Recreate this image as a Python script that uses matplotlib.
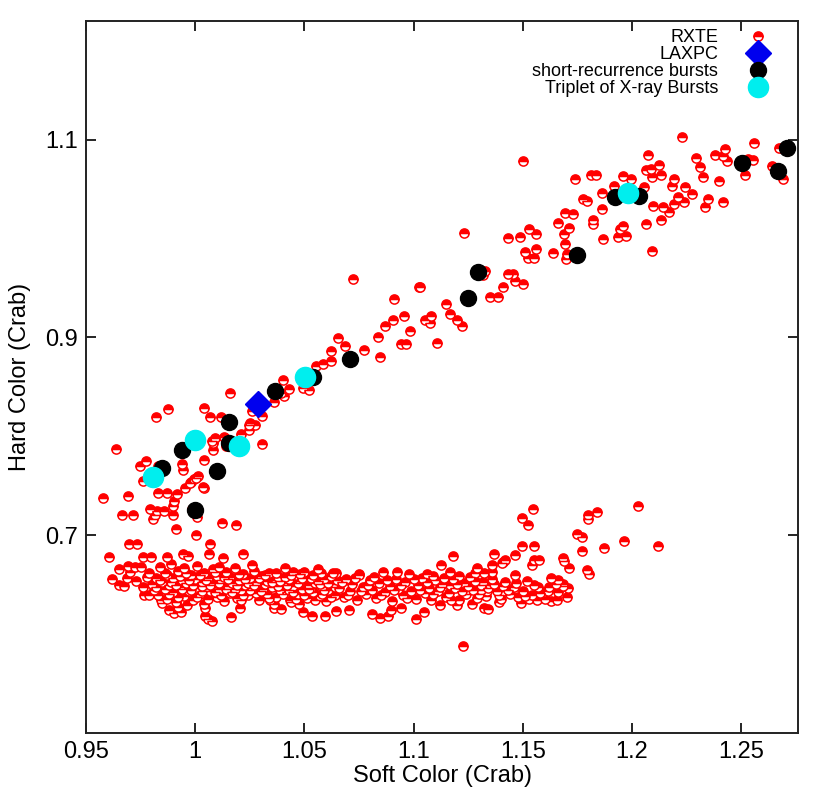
import matplotlib
matplotlib.use("Agg")
import matplotlib.pyplot as plt
from matplotlib import font_manager

# ---------------- data ----------------
# RXTE: upper (rising) branch, (soft, hard)
rxte_branch = [
    (0.9636, 0.787), (0.9747, 0.770), (0.9775, 0.775), (0.9762, 0.755), (0.9579, 0.738),
    (0.9691, 0.740), (0.9831, 0.743), (0.9871, 0.743), (0.9917, 0.742), (0.9904, 0.735),
    (0.9897, 0.730), (0.9793, 0.727), (0.9827, 0.725), (0.9859, 0.725), (0.9666, 0.720),
    (0.9714, 0.720), (0.9816, 0.720), (0.9808, 0.716), (0.9898, 0.720), (0.9953, 0.748),
    (0.9980, 0.754), (0.9996, 0.757), (1.0012, 0.760), (1.0039, 0.748), (1.0040, 0.776),
    (0.9938, 0.772), (0.9943, 0.766), (0.9985, 0.727), (1.0010, 0.718), (0.9914, 0.706),
    (1.0124, 0.7125), (1.0186, 0.710), (1.0004, 0.700), (1.0069, 0.691), (1.0082, 0.786),
    (1.0082, 0.793), (1.0089, 0.798), (1.0137, 0.798), (1.0251, 0.813), (1.0274, 0.811),
    (1.0307, 0.7925), (0.9828, 0.770),
    (0.9820, 0.8195), (0.9877, 0.8276), (1.0042, 0.829), (1.0068, 0.8195), (1.0118, 0.8195),
    (1.0158, 0.8438), (1.0078, 0.795), (1.0132, 0.799), (1.0141, 0.790), (1.0004, 0.758),
    (0.9976, 0.753), (1.0037, 0.749), (1.0209, 0.802), (1.0248, 0.8117), (1.0247, 0.8066),
    (1.0305, 0.821), (1.0259, 0.826), (1.0361, 0.835), (1.0401, 0.8565), (1.0431, 0.848),
    (1.0408, 0.841), (1.0393, 0.8438), (1.0495, 0.849), (1.0523, 0.8464), (1.0552, 0.8714),
    (1.0587, 0.8734), (1.0622, 0.8758), (1.0622, 0.8866),
    (1.0723, 0.959), (1.0654, 0.899), (1.0686, 0.891), (1.0773, 0.8876), (1.0837, 0.9007),
    (1.0846, 0.8805), (1.0906, 0.918), (1.0943, 0.8937), (1.0966, 0.8937), (1.0984, 0.907),
    (1.0956, 0.922), (1.1025, 0.951), (1.1053, 0.918), (1.1075, 0.915), (1.1080, 0.922),
    (1.1108, 0.8947), (1.1149, 0.934), (1.1167, 0.924), (1.1199, 0.918), (1.1222, 0.912),
    (1.0869, 0.912), (1.0911, 0.939),
    (1.1503, 1.0789), (1.2228, 1.1024), (1.1231, 1.0057), (1.1027, 0.951), (1.1434, 1.0006),
    (1.1488, 1.0017), (1.1529, 1.010), (1.1560, 1.0047), (1.1511, 0.9865), (1.1523, 0.9804),
    (1.1549, 0.9804), (1.1560, 0.9895), (1.1636, 0.9855), (1.1663, 1.0158), (1.1689, 1.005),
    (1.1712, 1.0107), (1.1691, 0.9946), (1.1702, 0.9844), (1.1697, 0.9797), (1.1694, 1.026),
    (1.1732, 1.025), (1.1741, 1.0606), (1.1775, 1.0404), (1.1796, 1.0377), (1.1813, 1.0647),
    (1.1834, 1.0647), (1.1821, 1.0192), (1.1823, 1.0148), (1.1862, 1.0462), (1.1862, 1.030),
    (1.1865, 0.9996), (1.1918, 1.0529), (1.1946, 1.0097), (1.1958, 1.0124), (1.1938, 1.0017),
    (1.1972, 1.0023), (1.1961, 1.063), (1.1995, 1.0603), (1.2056, 1.0522), (1.2065, 1.0148),
    (1.2071, 1.0842), (1.2065, 1.069), (1.2086, 1.0707), (1.2091, 1.062), (1.2124, 1.0747),
    (1.2134, 1.0647), (1.2098, 1.0333), (1.2144, 1.032), (1.2132, 1.0184), (1.2169, 1.027),
    (1.2190, 1.035), (1.2210, 1.0417), (1.2240, 1.037), (1.2243, 1.0518), (1.2185, 1.0528),
    (1.2190, 1.0606), (1.2274, 1.0455), (1.2294, 1.081), (1.2312, 1.072), (1.2323, 1.062),
    (1.2332, 1.032), (1.2347, 1.040), (1.2381, 1.0842), (1.2399, 1.0586), (1.2416, 1.0832),
    (1.2427, 1.0907), (1.2434, 1.0789), (1.2416, 1.0367), (1.2518, 1.0647), (1.2533, 1.0809),
    (1.2553, 1.0792), (1.2559, 1.0968), (1.2640, 1.0731), (1.2675, 1.0917), (1.2691, 1.0606),
    (1.2091, 0.9874), (1.1411, 0.951), (1.1466, 0.9574), (1.1503, 0.954), (1.1457, 0.964),
    (1.1430, 0.9645), (1.1350, 0.941), (1.1388, 0.941), (1.1320, 0.9628), (1.1327, 0.9668),
]

# RXTE: lower (flat) band, sparse / edge points
rxte_band = [
    (0.9698, 0.691), (0.9734, 0.691), (0.9604, 0.678), (0.9762, 0.678), (0.9798, 0.678),
    (0.9870, 0.678), (0.9943, 0.681), (0.9966, 0.679), (1.0062, 0.681), (1.0126, 0.677),
    (1.0218, 0.681), (0.9650, 0.666), (0.9694, 0.669), (0.9724, 0.668), (0.9753, 0.668),
    (0.9702, 0.663), (0.9619, 0.656), (0.9653, 0.650), (0.9673, 0.649), (0.9688, 0.657),
    (0.9729, 0.654), (0.9760, 0.648), (0.9779, 0.658), (0.9764, 0.640), (0.9787, 0.640),
    (0.9843, 0.634), (0.9848, 0.631), (0.9879, 0.624), (0.9904, 0.621), (0.9920, 0.627),
    (0.9935, 0.622), (0.9961, 0.629), (1.0045, 0.626), (1.0045, 0.618), (1.0057, 0.615),
    (1.0077, 0.613), (1.0163, 0.617), (1.0207, 0.626), (1.0344, 0.634), (1.0362, 0.626),
    (1.0393, 0.625), (1.0434, 0.635), (1.0477, 0.630), (1.0492, 0.622), (1.0535, 0.618),
    (1.0596, 0.618), (1.0578, 0.662), (1.0447, 0.663),
    (1.0643, 0.662), (1.0645, 0.623), (1.0705, 0.624), (1.0811, 0.620), (1.0846, 0.616),
    (1.0884, 0.618), (1.0897, 0.624), (1.0943, 0.626), (1.1010, 0.615), (1.1049, 0.622),
    (1.1121, 0.629), (1.1198, 0.629), (1.1266, 0.630), (1.1323, 0.626), (1.1342, 0.625),
    (1.1393, 0.632), (1.1492, 0.631), (1.1528, 0.636), (1.1564, 0.634), (1.1630, 0.633),
    (1.1656, 0.634), (1.1599, 0.643), (1.1617, 0.644), (1.1702, 0.638), (1.1706, 0.647),
    (1.1686, 0.651), (1.1663, 0.655), (1.1712, 0.667), (1.1683, 0.677), (1.1690, 0.674),
    (1.1549, 0.675), (1.1575, 0.675), (1.1544, 0.670), (1.1552, 0.689), (1.1498, 0.689),
    (1.1462, 0.680), (1.1465, 0.660), (1.1411, 0.673), (1.1419, 0.675), (1.1370, 0.681),
    (1.1358, 0.670), (1.1361, 0.663), (1.1323, 0.662), (1.1289, 0.667), (1.1282, 0.662),
    (1.1179, 0.679), (1.1126, 0.670), (1.1167, 0.663), (1.1208, 0.659), (1.1228, 0.588),
    (1.0926, 0.663), (1.0752, 0.661), (1.1060, 0.661), (1.1091, 0.659), (1.1408, 0.649),
    (1.1408, 0.644), (1.1320, 0.653), (1.1350, 0.650), (1.1335, 0.644), (1.1308, 0.645),
    (1.1244, 0.645), (1.1167, 0.650), (1.1406, 0.672),
    (1.1546, 0.727), (1.1498, 0.717), (1.1523, 0.710), (1.2027, 0.730), (1.2118, 0.689),
    (1.1964, 0.694), (1.1871, 0.687), (1.1839, 0.723), (1.1800, 0.720), (1.1798, 0.716),
    (1.1747, 0.701), (1.1770, 0.698), (1.1773, 0.684), (1.1793, 0.665), (1.1804, 0.661),
    (1.1686, 0.649),
]

# RXTE: dense core of the lower band
rxte_core = [
    (0.979, 0.662), (0.980, 0.651), (0.981, 0.645), (0.982, 0.657), (0.983, 0.640),
    (0.984, 0.668), (0.985, 0.653), (0.986, 0.646), (0.987, 0.660), (0.987, 0.636),
    (0.988, 0.650), (0.989, 0.671), (0.990, 0.643), (0.990, 0.657), (0.991, 0.632),
    (0.992, 0.664), (0.993, 0.648), (0.994, 0.655), (0.995, 0.639), (0.995, 0.667),
    (0.996, 0.652), (0.997, 0.644), (0.998, 0.660), (0.999, 0.635), (1.000, 0.656),
    (1.000, 0.647), (1.001, 0.669), (1.002, 0.641), (1.003, 0.653), (1.004, 0.662),
    (1.004, 0.630), (1.005, 0.648), (1.006, 0.657), (1.007, 0.644), (1.008, 0.666),
    (1.009, 0.651), (1.010, 0.638), (1.010, 0.659), (1.011, 0.646), (1.012, 0.655),
    (1.013, 0.633), (1.014, 0.663), (1.015, 0.649), (1.016, 0.642), (1.016, 0.658),
    (1.017, 0.652), (1.018, 0.667), (1.019, 0.637), (1.020, 0.655), (1.021, 0.645),
    (1.022, 0.661), (1.023, 0.650), (1.024, 0.640), (1.025, 0.657), (1.026, 0.647),
    (1.027, 0.664), (1.028, 0.653), (1.029, 0.634), (1.030, 0.659), (1.031, 0.646),
    (1.032, 0.651), (1.033, 0.641), (1.034, 0.662), (1.035, 0.648), (1.036, 0.655),
    (1.037, 0.638), (1.038, 0.658), (1.039, 0.645), (1.040, 0.652), (1.041, 0.667),
    (1.042, 0.643), (1.043, 0.656), (1.044, 0.632), (1.045, 0.649), (1.046, 0.660),
    (1.047, 0.641), (1.048, 0.654), (1.049, 0.646), (1.050, 0.663), (1.051, 0.637),
    (1.052, 0.650), (1.053, 0.657), (1.054, 0.643), (1.055, 0.652), (1.056, 0.666),
    (1.057, 0.639), (1.058, 0.648), (1.059, 0.656), (1.060, 0.633), (1.061, 0.645),
    (1.062, 0.659), (1.063, 0.651), (1.064, 0.640), (1.065, 0.655),
    (0.982, 0.648), (0.989, 0.653), (0.993, 0.659), (0.998, 0.645), (1.003, 0.644),
    (1.008, 0.652), (1.013, 0.658), (1.018, 0.646), (1.023, 0.656), (1.028, 0.642),
    (1.033, 0.654), (1.038, 0.649), (1.043, 0.645), (1.048, 0.661), (1.053, 0.647),
    (1.058, 0.641), (1.063, 0.662), (1.006, 0.636), (1.021, 0.634), (1.036, 0.630),
    (1.046, 0.636), (1.011, 0.668), (1.026, 0.670), (1.041, 0.658), (1.056, 0.654),
    (0.984, 0.655), (0.986, 0.662), (0.988, 0.641), (0.991, 0.650), (0.992, 0.638),
    (0.994, 0.646), (0.996, 0.662), (0.997, 0.655), (0.999, 0.650), (1.001, 0.638),
    (1.002, 0.660), (1.003, 0.649), (1.005, 0.655), (1.007, 0.650), (1.009, 0.643),
    (1.009, 0.663), (1.011, 0.652), (1.012, 0.640), (1.014, 0.646), (1.015, 0.656),
    (1.017, 0.643), (1.019, 0.650), (1.020, 0.661), (1.022, 0.640), (1.024, 0.652),
    (1.025, 0.645), (1.027, 0.650), (1.029, 0.657), (1.030, 0.644), (1.032, 0.660),
    (1.034, 0.637), (1.035, 0.653), (1.037, 0.662), (1.039, 0.654), (1.040, 0.641),
    (1.042, 0.650), (1.044, 0.660), (1.045, 0.643), (1.047, 0.652), (1.049, 0.657),
    (1.050, 0.640), (1.052, 0.646), (1.054, 0.660), (1.055, 0.635), (1.057, 0.651),
    (1.059, 0.645), (1.061, 0.652), (1.062, 0.638), (1.064, 0.648),
    (1.066, 0.647), (1.068, 0.638), (1.069, 0.656), (1.071, 0.644), (1.072, 0.651),
    (1.074, 0.634), (1.075, 0.660), (1.077, 0.648), (1.078, 0.641), (1.080, 0.655),
    (1.081, 0.645), (1.083, 0.637), (1.084, 0.652), (1.086, 0.663), (1.087, 0.643),
    (1.089, 0.649), (1.090, 0.633), (1.092, 0.656), (1.093, 0.646), (1.095, 0.640),
    (1.096, 0.653), (1.098, 0.661), (1.099, 0.644), (1.101, 0.636), (1.102, 0.650),
    (1.104, 0.657), (1.105, 0.642), (1.107, 0.647), (1.108, 0.634), (1.110, 0.655),
    (1.111, 0.644), (1.113, 0.651), (1.115, 0.638), (1.116, 0.642), (1.118, 0.656),
    (1.119, 0.647), (1.121, 0.635), (1.123, 0.652), (1.124, 0.641), (1.126, 0.658),
    (1.127, 0.645), (1.129, 0.637), (1.131, 0.650), (1.133, 0.639), (1.136, 0.656),
    (1.138, 0.644), (1.140, 0.636), (1.142, 0.653), (1.144, 0.641), (1.146, 0.648),
    (1.148, 0.638), (1.150, 0.644), (1.152, 0.654), (1.154, 0.640), (1.157, 0.648),
    (1.160, 0.636), (1.163, 0.657), (1.166, 0.643),
    (1.067, 0.653), (1.070, 0.640), (1.073, 0.657), (1.076, 0.644), (1.079, 0.650),
    (1.082, 0.658), (1.085, 0.640), (1.088, 0.655), (1.091, 0.645), (1.094, 0.650),
    (1.097, 0.637), (1.100, 0.656), (1.103, 0.645), (1.106, 0.653), (1.109, 0.641),
    (1.112, 0.648), (1.114, 0.657), (1.117, 0.635), (1.120, 0.651), (1.122, 0.644),
    (1.125, 0.649), (1.128, 0.654), (1.130, 0.641), (1.134, 0.647), (1.137, 0.651),
    (1.139, 0.640), (1.143, 0.645), (1.147, 0.652), (1.151, 0.639), (1.155, 0.650),
    (1.158, 0.642), (1.162, 0.648), (1.165, 0.651),
]

laxpc_soft = [1.0288]
laxpc_hard = [0.833]

burst_soft = [0.9848, 0.994, 1.0155, 1.010, 1.000, 1.0155, 1.0366, 1.054, 1.071,
              1.175, 1.1296, 1.125, 1.1923, 1.2033, 1.2505, 1.2669, 1.271]
burst_hard = [0.768, 0.786, 0.814, 0.765, 0.726, 0.793, 0.846, 0.860, 0.878,
              0.983, 0.9666, 0.940, 1.0425, 1.0434, 1.0768, 1.0687, 1.092]

triplet_soft = [0.9807, 0.9999, 1.020, 1.0503, 1.198]
triplet_hard = [0.759, 0.7965, 0.790, 0.860, 1.046]

x_ticks = [0.95, 1.0, 1.05, 1.1, 1.15, 1.2, 1.25]
x_tick_labels = ["0.95", "1", "1.05", "1.1", "1.15", "1.2", "1.25"]
y_ticks = [0.7, 0.9, 1.1]
y_tick_labels = ["0.7", "0.9", "1.1"]

# ---------------- style ----------------
available = {f.name for f in font_manager.fontManager.ttflist}
fam = ["Liberation Sans Narrow", "Liberation Sans", "DejaVu Sans"]
fam = [f for f in fam if f in available] or ["DejaVu Sans"]
plt.rcParams["font.family"] = fam

fig = plt.figure(figsize=(8.30, 7.91), dpi=100)
ax = fig.add_axes([86 / 830, 58 / 791, (798 - 86) / 830, (733 - 21) / 791])

rx = [p[0] for p in rxte_branch + rxte_band + rxte_core]
ry = [p[1] for p in rxte_branch + rxte_band + rxte_core]

ax.plot(rx, ry, linestyle="none", marker="o", markersize=6.6, fillstyle="top",
        markerfacecolor="#ff0000", markerfacecoloralt="white",
        markeredgecolor="#ff0000", markeredgewidth=1.1, label="RXTE", zorder=2)
ax.plot(laxpc_soft, laxpc_hard, linestyle="none", marker="D", markersize=13.5,
        color="#0000ee", label="LAXPC", zorder=3)
ax.plot(burst_soft, burst_hard, linestyle="none", marker="o", markersize=11.5,
        color="black", label="short-recurrence bursts", zorder=4)
ax.plot(triplet_soft, triplet_hard, linestyle="none", marker="o", markersize=14.5,
        color="#00eeee", label="Triplet of X-ray Bursts", zorder=5)

ax.set_xlim(0.95, 1.276)
ax.set_ylim(0.5, 1.22)
ax.set_xticks(x_ticks)
ax.set_xticklabels(x_tick_labels)
ax.set_yticks(y_ticks)
ax.set_yticklabels(y_tick_labels)
ax.tick_params(direction="in", length=7, width=1.2, top=True, right=True,
               labelsize=17, pad=6, colors="black")
for s in ax.spines.values():
    s.set_linewidth(1.4)
    s.set_color("#222222")

ax.set_xlabel("Soft Color (Crab)", fontsize=17, labelpad=1)
ax.set_ylabel("Hard Color (Crab)", fontsize=17, labelpad=10)

leg = ax.legend(loc="upper right", bbox_to_anchor=(0.969, 0.999),
                markerfirst=False, frameon=False, fontsize=13,
                handlelength=1.2, handletextpad=1.6, labelspacing=0.0,
                borderaxespad=0.0, numpoints=1)
for t in leg.get_texts():
    t.set_ha("right")

fig.savefig("out.png", dpi=100)
